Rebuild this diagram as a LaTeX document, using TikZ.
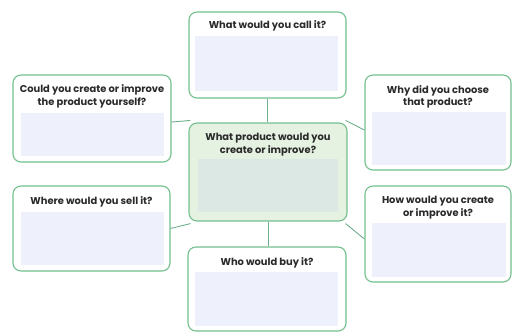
\documentclass[tikz,border=0pt]{standalone}
\usepackage{fontspec}
\setmainfont{Poppins}
\usetikzlibrary{calc}
\definecolor{bordergreen}{HTML}{72C08E}
\definecolor{linegreen}{HTML}{6FAE8C}
\definecolor{innerfill}{HTML}{EEF0FB}
\definecolor{centerfill}{HTML}{E5F1E1}
\definecolor{centerinner}{HTML}{DCE8E3}
\definecolor{txt}{HTML}{2A2A2A}
\begin{document}
\begin{tikzpicture}[x=1pt,y=-1pt,
  outerbox/.style={draw=bordergreen,line width=1.1pt,rounded corners=8pt,fill=white,inner sep=0pt},
  innerbox/.style={fill=innerfill,inner sep=0pt},
  qtext/.style={font=\bfseries\fontsize{9.9}{12.6}\selectfont,text=txt,align=center,inner sep=0pt},
  conn/.style={draw=linegreen,line width=0.9pt}]
\useasboundingbox (0,0) rectangle (513,333);
% outer boxes
\node[outerbox,minimum width=157,minimum height=86] (t) at (267.5,55) {};
\node[outerbox,minimum width=158,minimum height=87] (lu) at (92,118.5) {};
\node[outerbox,minimum width=146,minimum height=95] (ru) at (438,122.5) {};
\node[outerbox,fill=centerfill,minimum width=158,minimum height=98] (c) at (268,172) {};
\node[outerbox,minimum width=157,minimum height=85] (ll) at (91.5,228.5) {};
\node[outerbox,minimum width=146,minimum height=96] (rl) at (438,234) {};
\node[outerbox,minimum width=158,minimum height=84] (b) at (267,289) {};
% inner fills
\node[innerbox,minimum width=143,minimum height=55] (ti) at (266.5,63.5) {};
\node[innerbox,minimum width=143,minimum height=43] (lui) at (92.5,134.5) {};
\node[innerbox,minimum width=134,minimum height=53] (rui) at (439,138.5) {};
\node[innerbox,fill=centerinner,minimum width=140,minimum height=53] (ci) at (268,185.5) {};
\node[innerbox,minimum width=143,minimum height=53] (lli) at (92.5,238.5) {};
\node[innerbox,minimum width=134,minimum height=54] (rli) at (439,250) {};
\node[innerbox,minimum width=143,minimum height=54] (bi) at (266.5,299) {};
% texts
\node[qtext] (tt) at (267.5,26) {What would you call it?};
\node[qtext] (lut) at (92,96.5) {Could you create or improve\\the product yourself?};
\node[qtext] (rut) at (438,97) {Why did you choose\\that product?};
\node[qtext] (ct) at (268,144.5) {What product would you\\create or improve?};
\node[qtext] (llt) at (91.5,201.5) {Where would you sell it?};
\node[qtext] (rlt) at (438,207.5) {How would you create\\or improve it?};
\node[qtext] (bt) at (267,262.5) {Who would buy it?};
% connectors
\draw[conn] (t.south) -- (t.south |- c.north);
\draw[conn] (c.south) -- (c.south |- b.north);
\draw[conn] ([yshift=-3.5]lu.east) -- ([xshift=2,yshift=2]c.north west);
\draw[conn] ([yshift=-7.5]ru.west) -- ([xshift=-2,yshift=2]c.north east);
\draw[conn] (ll.east) -- ([xshift=2,yshift=-2]c.south west);
\draw[conn] ([yshift=-5]rl.west) -- ([xshift=-2,yshift=-2]c.south east);
\end{tikzpicture}
\end{document}
